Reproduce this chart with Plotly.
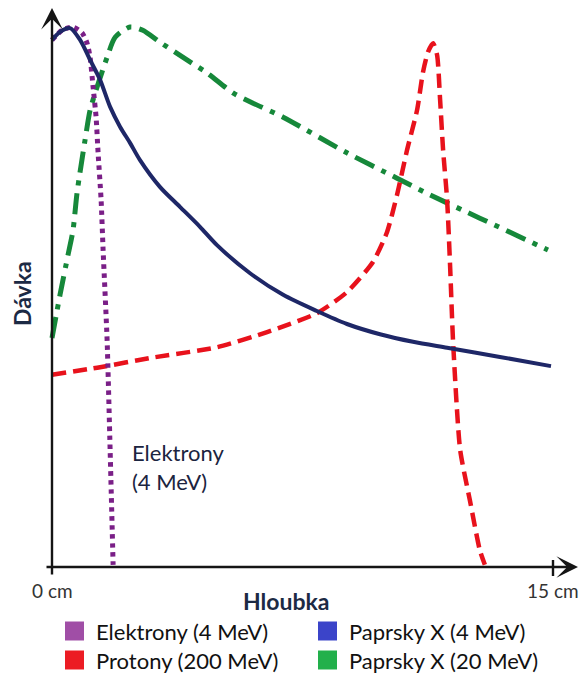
import plotly.graph_objects as go

# Depth-dose curves: depth in cm, relative dose in %
electron_depth = [0.00, 0.30, 0.63, 0.90, 1.05, 1.14, 1.23, 1.32, 1.38, 1.47, 1.53, 1.65,
                  1.74, 1.83]
electron_dose = [97.6, 99.4, 100.0, 98.9, 97.0, 94.4, 88.9, 83.3, 76.7, 68.0, 58.7, 42.0,
                 21.7, 0.4]

xray4_depth = [0.00, 0.24, 0.54, 0.84, 1.14, 1.44, 1.74, 2.04, 2.34, 2.63, 3.23, 3.83,
               4.43, 4.94, 5.93, 6.92, 7.93, 8.83, 9.82, 10.81, 11.83, 13.41, 14.94]
xray4_dose = [97.6, 99.1, 99.8, 97.6, 93.9, 90.2, 85.2, 81.5, 78.5, 75.4, 70.4, 66.7,
              63.0, 59.6, 54.4, 50.4, 47.4, 45.0, 43.1, 41.7, 40.6, 38.9, 37.2]

proton_depth = [0.00, 1.44, 2.93, 4.94, 6.44, 7.93, 8.83, 9.61, 10.03, 10.33, 10.63, 10.93,
                11.11, 11.26, 11.41, 11.53, 11.62, 11.71, 11.83, 11.92, 12.01, 12.22,
                12.51, 12.81, 12.96]
proton_dose = [35.6, 37.0, 38.7, 40.7, 43.5, 47.0, 50.9, 56.5, 62.0, 68.9, 77.2, 84.6,
               91.7, 95.4, 97.0, 94.8, 86.5, 77.2, 68.0, 55.6, 41.5, 21.7,
               12.4, 3.1, 0.4]

xray20_depth = [0.00, 0.24, 0.48, 0.63, 0.75, 0.99, 1.14, 1.35, 1.65, 1.89, 2.34, 2.72,
                3.23, 4.04, 4.64, 5.42, 6.02, 6.92, 8.83, 10.33, 11.32, 12.81, 14.85]
xray20_dose = [42.4, 50.4, 57.8, 62.4, 69.3, 79.1, 84.6, 88.9, 94.4, 98.1, 100.0, 99.4,
               97.2, 93.9, 91.5, 87.8, 85.9, 83.3, 76.7, 72.0, 68.9, 64.6, 58.7]

legend_labels = ["Elektrony (4 MeV)", "Paprsky X (4 MeV)",
                 "Protony (200 MeV)", "Paprsky X (20 MeV)"]
legend_colors = ["#a04ea6", "#3b44c9", "#ec1c24", "#22b04b"]

x_tick_labels = ["0 cm", "15 cm"]
x_tick_values = [0, 15]

# Figure geometry (pixels)
W, H = 580, 673
X0, SX = 52.0, 33.4      # pixel of depth 0, pixels per cm
Y0, SY = 567.0, 5.4      # pixel of dose 0, pixels per % dose

x_range = [(0 - X0) / SX, (W - X0) / SX]
y_range = [(Y0 - H) / SY, (Y0 - 0) / SY]


def px(xp):
    return xp / W


def py(yp):
    return 1 - yp / H


def depth_at(xp):
    return (xp - X0) / SX


def dose_at(yp):
    return (Y0 - yp) / SY


fig = go.Figure()

fig.add_trace(go.Scatter(
    x=xray20_depth, y=xray20_dose, mode="lines",
    line=dict(color="#16883a", width=5, dash="21px,8px,5px,8px",
              shape="spline", smoothing=0.7),
    showlegend=False, hoverinfo="skip"))

fig.add_trace(go.Scatter(
    x=proton_depth, y=proton_dose, mode="lines",
    line=dict(color="#e8121c", width=4.5, dash="14px,7px",
              shape="spline", smoothing=0.6),
    showlegend=False, hoverinfo="skip"))

fig.add_trace(go.Scatter(
    x=electron_depth, y=electron_dose, mode="lines",
    line=dict(color="#7a1f87", width=5, dash="4.5px,4.5px",
              shape="spline", smoothing=0.6),
    showlegend=False, hoverinfo="skip"))

fig.add_trace(go.Scatter(
    x=xray4_depth, y=xray4_dose, mode="lines",
    line=dict(color="#1e2767", width=4, shape="spline", smoothing=0.8),
    showlegend=False, hoverinfo="skip"))

annotations = []
shapes = []

# Vertical axis with arrow head
annotations.append(dict(
    x=0, y=dose_at(8), xref="x", yref="y",
    ax=0, ay=dose_at(576), axref="x", ayref="y",
    showarrow=True, arrowhead=3, arrowsize=1.5, arrowwidth=2.4,
    arrowcolor="#151515", text=""))

# Horizontal axis with arrow head
annotations.append(dict(
    x=depth_at(578), y=0, xref="x", yref="y",
    ax=depth_at(45), ay=0, axref="x", ayref="y",
    showarrow=True, arrowhead=3, arrowsize=1.5, arrowwidth=2.4,
    arrowcolor="#151515", text=""))

# Tick at 15 cm
shapes.append(dict(type="line", xref="x", yref="y",
                   x0=x_tick_values[1], x1=x_tick_values[1],
                   y0=dose_at(560), y1=dose_at(576),
                   line=dict(color="#151515", width=2.4)))

label_font = "Lato, 'Open Sans', sans-serif"
title_color = "#1c2a44"

for val, lab in zip(x_tick_values, x_tick_labels):
    annotations.append(dict(
        x=val, y=dose_at(590), xref="x", yref="y", text=lab, showarrow=False,
        xanchor="center", yanchor="middle",
        font=dict(family=label_font, size=19, color="#333333")))

annotations.append(dict(
    x=px(286), y=py(601), xref="paper", yref="paper", text="<b>Hloubka</b>",
    showarrow=False, xanchor="center", yanchor="middle",
    font=dict(family=label_font, size=23, color=title_color)))

annotations.append(dict(
    x=px(22), y=py(294), xref="paper", yref="paper", text="<b>Dávka</b>",
    showarrow=False, xanchor="center", yanchor="middle", textangle=-90,
    font=dict(family=label_font, size=23, color=title_color)))

annotations.append(dict(
    x=px(130), y=py(467), xref="paper", yref="paper",
    text="Elektrony<br>(4 MeV)", showarrow=False, align="left",
    xanchor="left", yanchor="middle",
    font=dict(family=label_font, size=22, color="#1b2440")))

# Legend: two columns of colour swatches with labels
col_x = [65, 318]
row_y = [631, 660]
for i, (lab, col) in enumerate(zip(legend_labels, legend_colors)):
    cx = col_x[i % 2]
    cy = row_y[i // 2]
    shapes.append(dict(type="rect", xref="paper", yref="paper",
                       x0=px(cx), x1=px(cx + 19), y0=py(cy - 9.5), y1=py(cy + 9.5),
                       fillcolor=col, line=dict(width=0)))
    annotations.append(dict(
        x=px(cx + 29), y=py(cy), xref="paper", yref="paper", text=lab,
        showarrow=False, xanchor="left", yanchor="middle",
        font=dict(family=label_font, size=22, color="#111111")))

fig.update_layout(
    width=W, height=H,
    margin=dict(l=0, r=0, t=0, b=0),
    paper_bgcolor="white", plot_bgcolor="white",
    xaxis=dict(range=x_range, visible=False, fixedrange=True),
    yaxis=dict(range=y_range, visible=False, fixedrange=True),
    annotations=annotations, shapes=shapes,
    showlegend=False,
)

fig.write_html("out.html")
